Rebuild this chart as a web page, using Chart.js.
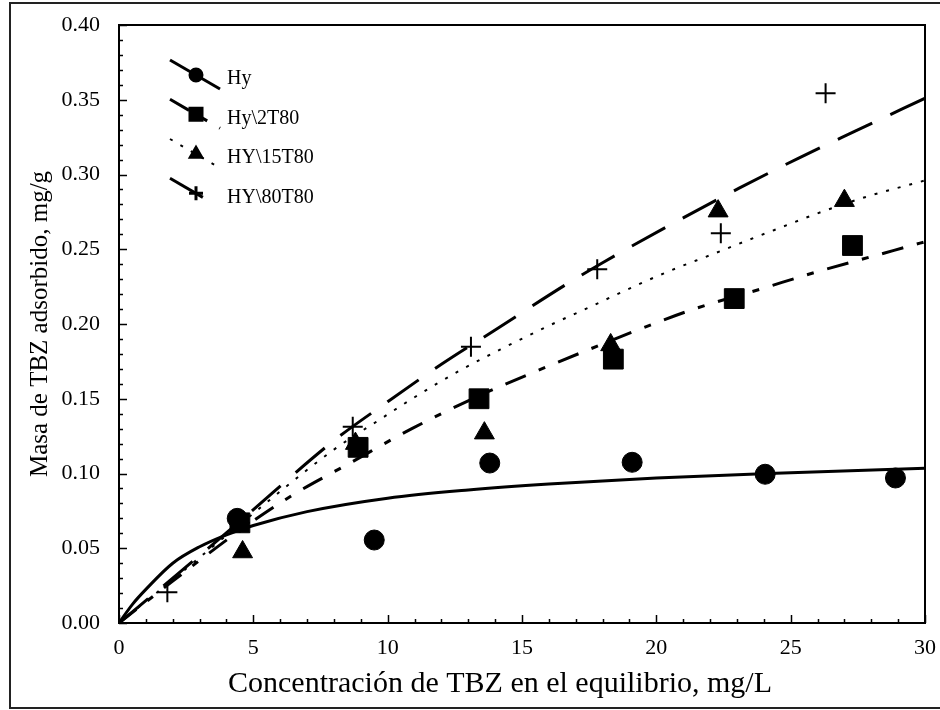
<!DOCTYPE html>
<html><head><meta charset="utf-8">
<script src="https://cdn.jsdelivr.net/npm/chart.js@4/dist/chart.umd.min.js"></script>
<style>html,body{margin:0;padding:0;background:#fff}</style>
</head><body>
<canvas id="c" width="940" height="710"></canvas>
<script>
// ---- data ----
const seriesNames = ['Hy', 'Hy\\2T80', 'HY\\15T80', 'HY\\80T80'];
const xTickLabels = [0, 5, 10, 15, 20, 25, 30];
const yTickLabels = ['0.00','0.05','0.10','0.15','0.20','0.25','0.30','0.35','0.40'];
const xTitle = 'Concentración de TBZ en el equilibrio, mg/L';
const yTitle = 'Masa de TBZ adsorbido, mg/g';

// measured points
const hyX   = [4.4, 9.5, 13.8, 19.1, 24.05, 28.9];
const hyY   = [0.070, 0.0555, 0.107, 0.1075, 0.0995, 0.097];
const t2X   = [4.5, 8.9, 13.4, 18.4, 22.9, 27.3];
const t2Y   = [0.067, 0.1175, 0.150, 0.1765, 0.217, 0.2525];
const t15X  = [4.6, 8.8, 13.6, 18.3, 22.3, 27.0];
const t15Y  = [0.0475, 0.120, 0.127, 0.186, 0.2755, 0.2825];
const t80X  = [1.8, 4.5, 8.7, 13.1, 17.8, 22.4, 26.3];
const t80Y  = [0.0205, 0.067, 0.1313, 0.1848, 0.2366, 0.2607, 0.3543];

// fitted curves
const hyFitX  = [0, 0.5, 1, 2, 3, 4, 5, 7, 10, 13, 16, 20, 25, 30];
const hyFitY  = [0, 0.0125, 0.0225, 0.0400, 0.0510, 0.0590, 0.0652, 0.0745, 0.0835, 0.0890, 0.0930, 0.0970, 0.1005, 0.1035];
const t2FitX  = [0, 2, 4.5, 6.5, 8.6, 10.9, 13.4, 15.6, 17.5, 19.3, 21.4, 23.9, 25.9, 28.5, 30];
const t2FitY  = [0, 0.028, 0.062, 0.086, 0.107, 0.130, 0.152, 0.169, 0.183, 0.196, 0.210, 0.2235, 0.2345, 0.2475, 0.255];
const t15FitX = [0, 2, 4.5, 8, 9.7, 11, 12.7, 14.2, 15.9, 17.6, 19.4, 20.7, 22, 23.4, 24.7, 26, 27.8, 30];
const t15FitY = [0, 0.029, 0.066, 0.116, 0.136, 0.151, 0.169, 0.183, 0.198, 0.212, 0.227, 0.237, 0.246, 0.256, 0.265, 0.274, 0.285, 0.296];
const t80FitX = [0, 2, 4.5, 8, 10, 12, 14, 16.6, 18, 21, 23.1, 25.3, 27.4, 30];
const t80FitY = [0, 0.030, 0.068, 0.122, 0.148, 0.173, 0.196, 0.226, 0.241, 0.271, 0.291, 0.311, 0.329, 0.351];

const pts = (xs, ys) => xs.map((x, i) => ({x, y: ys[i]}));

const styles = [
  {point: 'circle',   pr: 10, lr: 6,   dash: [],              lw: 3},
  {point: 'rect',     pr: 14, lr: 8.5, dash: [22, 14, 7, 14], lw: 3},
  {point: 'triangle', pr: 11.5, lr: 7.5, dash: [3, 9],        lw: 2},
  {point: 'cross',    pr: 10, lr: 7,   dash: [38, 20],        lw: 3}
];

const pointSets = [pts(hyX, hyY), pts(t2X, t2Y), pts(t15X, t15Y), pts(t80X, t80Y)];
const fitSets = [pts(hyFitX, hyFitY), pts(t2FitX, t2FitY), pts(t15FitX, t15FitY), pts(t80FitX, t80FitY)];

const datasets = [];
// points first (drawn on top): plus, square, triangle, circle
[3, 1, 2, 0].forEach(i => {
  datasets.push({
    label: seriesNames[i], data: pointSets[i], showLine: false,
    pointStyle: styles[i].point, pointRadius: styles[i].pr, pointHoverRadius: styles[i].pr,
    backgroundColor: '#000', borderColor: '#000',
    pointBorderWidth: styles[i].point === 'cross' ? 2 : 1
  });
});
[0, 1, 2, 3].forEach(i => {
  datasets.push({
    label: seriesNames[i] + ' fit', data: fitSets[i], showLine: true,
    pointRadius: 0, borderColor: '#000', borderWidth: styles[i].lw,
    borderDash: styles[i].dash, cubicInterpolationMode: 'monotone', fill: false
  });
});

const FONT = 'Liberation Serif, Times New Roman, serif';

const decor = {
  id: 'decor',
  afterDraw(chart) {
    const {ctx, chartArea: a, scales: {x, y}} = chart;
    ctx.save();
    // plot frame
    ctx.strokeStyle = '#000'; ctx.lineWidth = 2; ctx.setLineDash([]);
    ctx.strokeRect(a.left, a.top, a.right - a.left, a.bottom - a.top);
    // inward ticks
    ctx.lineWidth = 1.5;
    ctx.beginPath();
    for (let i = 0; i <= 30; i++) {
      const px = Math.round(x.getPixelForValue(i)) + 0.5;
      const len = i % 5 === 0 ? 8 : 4;
      ctx.moveTo(px, a.bottom); ctx.lineTo(px, a.bottom - len);
    }
    for (let j = 0; j <= 40; j++) {
      const py = Math.round(y.getPixelForValue(j / 100)) + 0.5;
      const len = j % 5 === 0 ? 8 : 4;
      ctx.moveTo(a.left, py); ctx.lineTo(a.left + len, py);
    }
    ctx.stroke();
    // outer figure frame
    ctx.strokeStyle = '#222'; ctx.lineWidth = 2;
    ctx.strokeRect(10, 3, 960, 705);
    // x-axis title (centred on the figure as in the original)
    ctx.fillStyle = '#000';
    ctx.font = '30px ' + FONT; ctx.textAlign = 'center'; ctx.textBaseline = 'middle';
    ctx.fillText(xTitle, 500, 684);
    // legend
    const rows = [75, 114.3, 154, 193.3];
    seriesNames.forEach((name, i) => {
      const c = rows[i], s = styles[i];
      ctx.strokeStyle = '#000'; ctx.fillStyle = '#000';
      ctx.lineWidth = s.lw; ctx.setLineDash(s.dash);
      ctx.beginPath(); ctx.moveTo(170, c - 15); ctx.lineTo(220, c + 14); ctx.stroke();
      ctx.setLineDash([]);
      Chart.helpers.drawPoint(ctx, {pointStyle: s.point, radius: s.lr, rotation: 0,
        borderWidth: s.point === 'cross' ? 1.5 : 1}, 196, c);
      ctx.font = '20px ' + FONT; ctx.textBaseline = 'middle'; ctx.textAlign = 'left';
      ctx.fillText(name, 227, c + 4);
    });
    ctx.restore();
  }
};

const hidden = 'rgba(0,0,0,0)';

new Chart(document.getElementById('c'), {
  type: 'scatter',
  data: {datasets},
  options: {
    responsive: false, animation: false, devicePixelRatio: 1,
    layout: {padding: {left: 0, top: 25, right: 13, bottom: 0}},
    plugins: {legend: {display: false}, tooltip: {enabled: false}},
    scales: {
      x: {
        type: 'linear', min: 0, max: 30,
        afterFit: s => { s.height = 87; },
        afterBuildTicks: s => { s.ticks = xTickLabels.map(v => ({value: v})); },
        ticks: {color: '#000', font: {family: FONT, size: 22}, padding: 0, maxRotation: 0,
          callback: v => String(v)},
        grid: {display: true, drawOnChartArea: false, drawTicks: true, tickLength: 12,
          tickColor: hidden, color: hidden},
        border: {display: true, color: '#000', width: 2},
        title: {display: false}
      },
      y: {
        type: 'linear', min: 0, max: 0.4,
        afterFit: s => { s.width = 119; },
        afterBuildTicks: s => { s.ticks = yTickLabels.map(v => ({value: parseFloat(v)})); },
        ticks: {color: '#000', font: {family: FONT, size: 22}, padding: 0,
          callback: v => v.toFixed(2)},
        grid: {display: true, drawOnChartArea: false, drawTicks: true, tickLength: 19,
          tickColor: hidden, color: hidden},
        border: {display: true, color: '#000', width: 2},
        title: {display: true, text: yTitle,
          color: '#000', font: {family: FONT, size: 25}, padding: {top: 25, bottom: 0}}
      }
    }
  },
  plugins: [decor]
});
</script>
</body></html>
